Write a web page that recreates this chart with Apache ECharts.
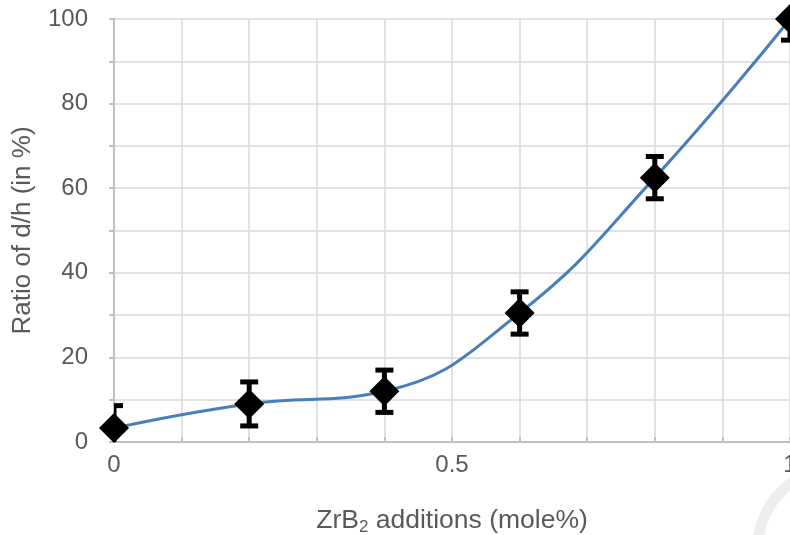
<!DOCTYPE html>
<html>
<head>
<meta charset="utf-8">
<script src="https://cdn.jsdelivr.net/npm/echarts@6/dist/echarts.min.js"></script>
<style>html,body{margin:0;padding:0;background:#fff;}#c{width:790px;height:535px;}</style>
</head>
<body>
<div id="c"></div>
<script>
var xValues = [0, 0.2, 0.4, 0.6, 0.8, 1.0];
var yValues = [3.3, 9.0, 12.0, 30.5, 62.5, 100];
var yErrors = [5.3, 5.2, 5.0, 5.0, 5.0, 5.0];
var xTickLabels = ['0', '0.5', '1'];
var yTickLabels = ['0', '20', '40', '60', '80', '100'];

var pts = xValues.map(function (x, i) { return [x, yValues[i]]; });
var errData = xValues.map(function (x, i) { return [x, yValues[i] - yErrors[i], yValues[i] + yErrors[i]]; });

var txt = '#595959';
var FONT = 'Liberation Sans';
var chart = echarts.init(document.getElementById('c'));
chart.setOption({
  animation: false,
  backgroundColor: '#fff',
  graphic: [{
    type: 'arc', silent: true, z: -10,
    shape: { cx: 838, cy: 548, r: 80, startAngle: Math.PI * 1.0, endAngle: Math.PI * 1.5 },
    style: { stroke: '#eeeeee', lineWidth: 11, fill: null }
  }],
  grid: { left: 114, right: 0, top: 19, bottom: 93, containLabel: false, outerBoundsMode: 'none' },
  xAxis: {
    type: 'value', min: 0, max: 1, interval: 0.1,
    axisLine: { lineStyle: { color: '#bfbfbf', width: 2 } },
    axisTick: { show: true, inside: true, length: 5, lineStyle: { color: '#bfbfbf', width: 2 } },
    splitLine: { show: true, lineStyle: { color: '#d9d9d9', width: 1.5 } },
    axisLabel: {
      color: txt, fontSize: 24, fontFamily: FONT, margin: 11, hideOverlap: false,
      formatter: function (v) {
        var s = String(Math.round(v * 10) / 10);
        return xTickLabels.indexOf(s) >= 0 ? s : '';
      }
    },
    name: '{a|ZrB}{s|2}{a| additions (mole%)}',
    nameLocation: 'middle', nameGap: 64,
    nameTextStyle: {
      rich: {
        a: { color: txt, fontSize: 26.5, fontFamily: FONT },
        s: { color: txt, fontSize: 17, fontFamily: FONT, verticalAlign: 'bottom', padding: [13, 0, 0, 0] }
      }
    }
  },
  yAxis: {
    type: 'value', min: 0, max: 100, interval: 10,
    axisLine: { show: true, lineStyle: { color: '#bfbfbf', width: 2 } },
    axisTick: { show: true, inside: false, length: 5, lineStyle: { color: '#bfbfbf', width: 2 } },
    splitLine: { show: true, lineStyle: { color: '#d9d9d9', width: 1.5 } },
    axisLabel: {
      color: txt, fontSize: 24, fontFamily: FONT, margin: 26,
      formatter: function (v) {
        var s = String(Math.round(v));
        return yTickLabels.indexOf(s) >= 0 ? s : '';
      }
    },
    name: 'Ratio of d/h (in %)',
    nameLocation: 'middle', nameGap: 78,
    nameTextStyle: { color: txt, fontSize: 26, fontFamily: FONT }
  },
  series: [
    {
      type: 'line', data: pts, smooth: 0.45, showSymbol: false, symbol: 'none',
      lineStyle: { color: '#4a7ebb', width: 3 }, z: 2
    },
    {
      type: 'custom', data: errData, clip: true, z: 3,
      renderItem: function (params, api) {
        var x = api.value(0);
        var lo = api.coord([x, api.value(1)]);
        var hi = api.coord([x, api.value(2)]);
        var hw = 9;
        var cs = params.coordSys;
        var clip = { x: cs.x, y: cs.y, width: cs.width, height: cs.height };
        var children = [
          { type: 'line', shape: { x1: lo[0], y1: lo[1], x2: hi[0], y2: hi[1] }, style: { stroke: '#000', lineWidth: 5 } },
          { type: 'rect', shape: { x: hi[0] - hw, y: hi[1] - 2.5, width: hw * 2, height: 5 }, style: { fill: '#000' } },
          { type: 'rect', shape: { x: lo[0] - hw, y: lo[1] - 2.5, width: hw * 2, height: 5 }, style: { fill: '#000' } }
        ];
        return { type: 'group', children: children, clipPath: { type: 'rect', shape: clip } };
      }
    },
    {
      type: 'scatter', data: pts, symbol: 'diamond', symbolSize: [30, 30], clip: false,
      itemStyle: { color: '#000', opacity: 1 }, z: 4
    }
  ]
});
</script>
</body>
</html>
